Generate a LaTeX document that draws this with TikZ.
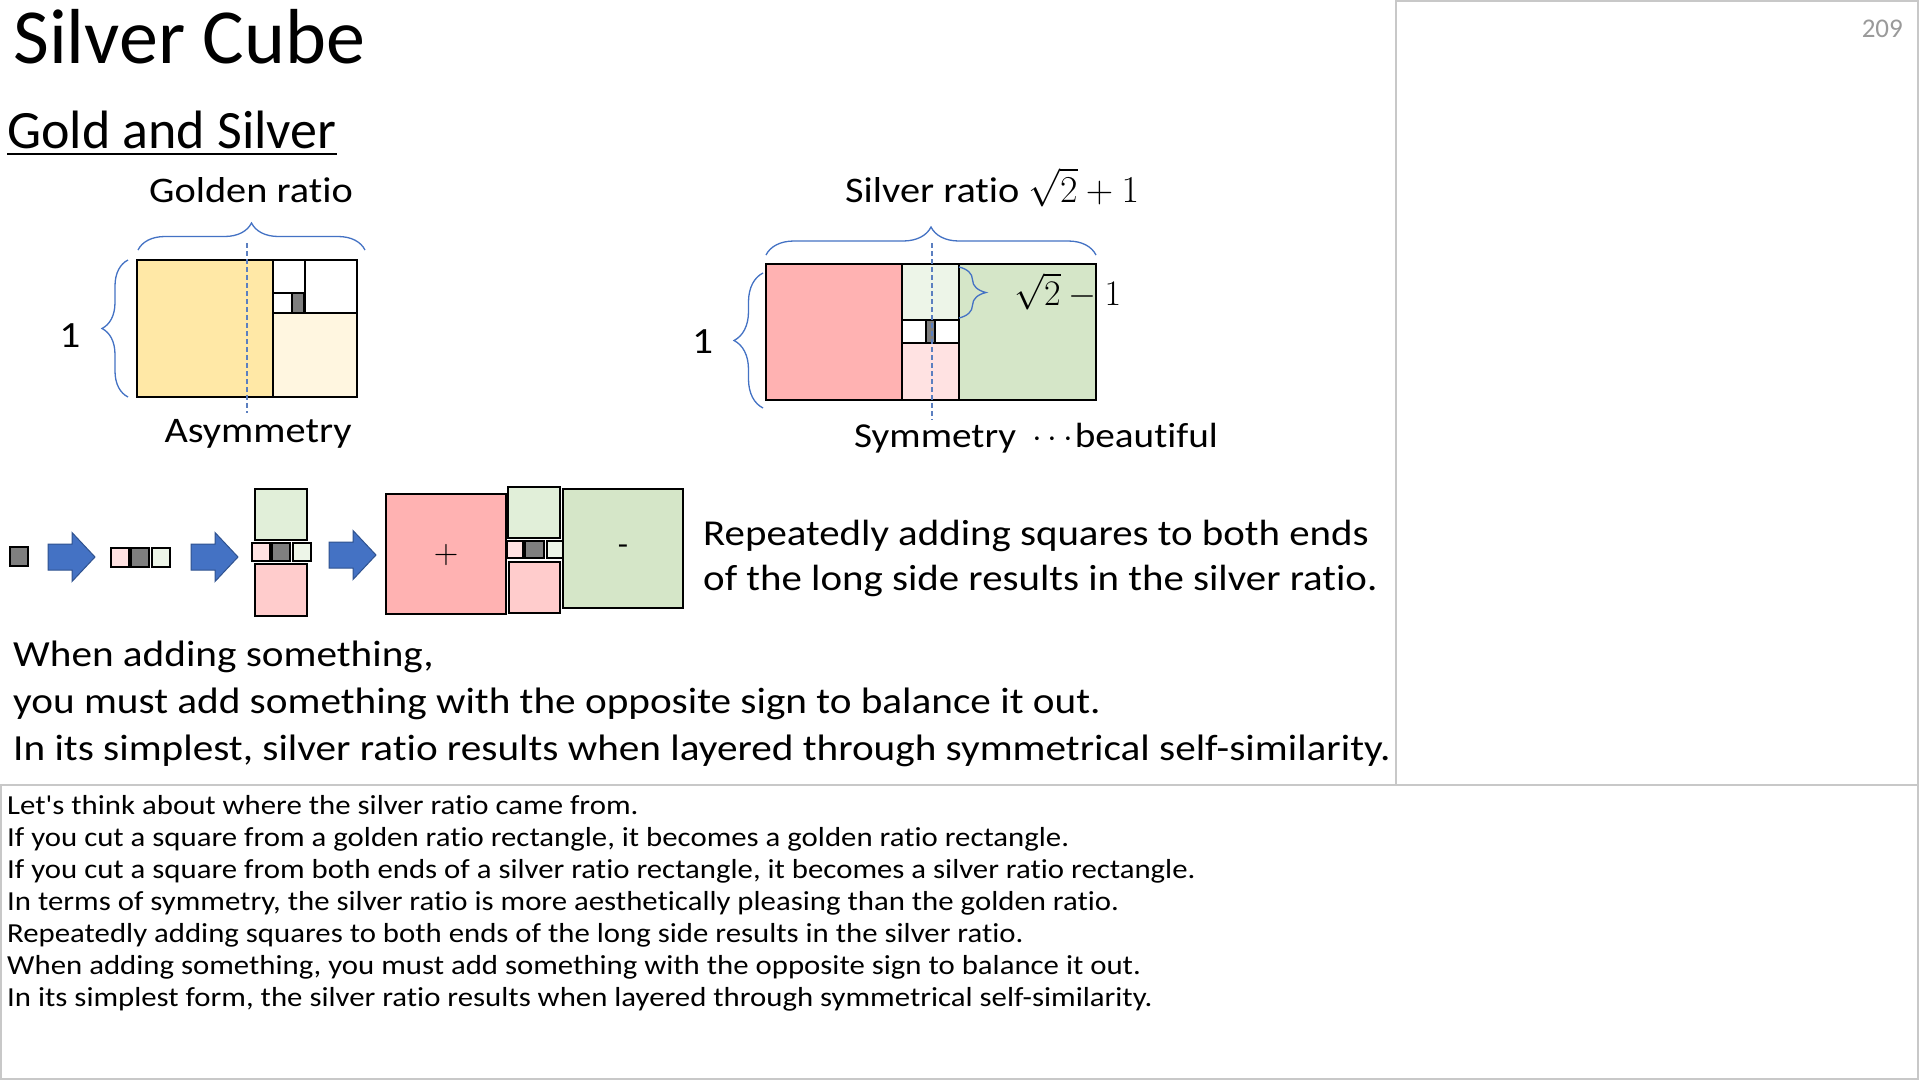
\RequirePackage{fix-cm}
\documentclass[tikz,border=0pt]{standalone}
\usepackage{fontspec}
\setmainfont{Carlito}[FakeStretch=1.12, Ligatures={NoCommon,TeXOff}]
\newfontfamily\headfont{Carlito}[Ligatures={NoCommon,TeXOff}]
\usepackage{amsmath}
\usetikzlibrary{decorations.pathreplacing,calc}

\definecolor{goldA}{HTML}{FFE8A6}
\definecolor{goldB}{HTML}{FFF6E0}
\definecolor{grayA}{HTML}{7F7F7F}
\definecolor{pinkA}{HTML}{FFB2B2}
\definecolor{pinkB}{HTML}{FFCCCC}
\definecolor{pinkC}{HTML}{FFE2E2}
\definecolor{greenA}{HTML}{D5E6C8}
\definecolor{greenB}{HTML}{E1EFD9}
\definecolor{greenC}{HTML}{EDF5E8}
\definecolor{braceblue}{HTML}{4472C4}
\definecolor{dashblue}{HTML}{5B7FC0}
\definecolor{arrowBlue}{HTML}{4472C4}
\definecolor{arrowEdge}{HTML}{2F528F}
\definecolor{frameGray}{HTML}{C8C8C8}
\definecolor{pageGray}{HTML}{9A9A9A}

\newcommand{\fsz}[1]{\fontsize{#1}{#1}\selectfont}

\tikzset{
  sq/.style={draw=black, line width=2.6pt},
  tiny/.style={draw=black, line width=2.2pt},
  txt/.style={inner sep=0pt, anchor=base west, text=black},
  brc/.style={draw=braceblue, line width=1.3pt, decorate, decoration={brace, amplitude=#1}},
  midline/.style={draw=dashblue, line width=1.2pt, dash pattern=on 5pt off 3pt},
  frame/.style={draw=frameGray, line width=1.5pt},
  barrow/.pic={
    \filldraw[fill=arrowBlue, draw=arrowEdge, line width=1pt]
      (0,-13) -- (24,-13) -- (24,-24.5) -- (47,0) -- (24,24.5) -- (24,13) -- (0,13) -- cycle;
  }
}

\begin{document}
\begin{tikzpicture}[x=1pt, y=-1pt]
  \useasboundingbox (0,0) rectangle (1920,1080);
  \fill[white] (0,0) rectangle (1920,1080);

  % page frames
  \draw[frame] (1396,1) rectangle (1918,785);
  \draw[frame] (1,785) rectangle (1918,1079);
  \node[txt, anchor=base east, text=pageGray, font=\headfont\fsz{27}] (page) at (1903,37) {209};

  % headings
  \node[txt, font=\headfont\fsz{78}] (title) at (13,63) {Silver Cube};
  \node[txt, font=\headfont\fsz{54}] (sub) at (7,148) {Gold and Silver};
  \draw[line width=2.3pt] ([yshift=-6pt]sub.base west) -- ([yshift=-6pt]sub.base east);

  % golden rectangle
  \filldraw[sq, fill=goldA] (137,260) rectangle (273,397);
  \filldraw[sq, fill=goldB] (273,313) rectangle (357,397);
  \draw[sq] (305,260) rectangle (357,313);
  \draw[sq] (273,260) rectangle (305,293);
  \draw[tiny] (273,293) rectangle (292,313);
  \filldraw[tiny, fill=grayA] (292,293) rectangle (304,313);
  \draw[midline] (247,243) -- (247,413);
  \draw[brc=27pt] (138,250) -- (365,250);
  \draw[brc=26pt] (128,397) -- (128,260);
  \node[txt, anchor=base, font=\fsz{36}] (gold) at (251,202) {Golden ratio};
  \node[txt, anchor=base, font=\fsz{36}] (asym) at (258,442) {Asymmetry};
  \node[txt, anchor=base, font=\fsz{37}] (gone) at (70,347) {1};

  % silver rectangle
  \filldraw[sq, fill=pinkA] (766,264) rectangle (902,400);
  \filldraw[sq, fill=greenA] (959,264) rectangle (1096,400);
  \filldraw[sq, fill=greenC] (902,264) rectangle (959,320);
  \filldraw[sq, fill=pinkC] (902,343) rectangle (959,400);
  \draw[sq] (902,320) rectangle (959,343);
  \filldraw[tiny, fill=grayA] (926,320) rectangle (935,343);
  \draw[midline] (932,243) -- (932,420);
  \draw[brc=28pt] (766,255) -- (1096,255);
  \draw[brc=29pt] (763,408) -- (763,273);
  \draw[brc=27pt] (959,267) -- (959,318);
  \node[txt, font=\fsz{36}] (silv) at (845,202) {Silver ratio\hspace{9pt}{\fsz{38}$\sqrt{2}+1$}};
  \node[txt, font=\fsz{35}] (sym) at (854,447) {Symmetry\hspace{16pt}$\cdots$\hspace{-4pt}beautiful};
  \node[txt, font=\fsz{37}] (sone) at (692,353) {1};
  \node[txt, font=\fsz{36}] (smin) at (1014,305) {$\sqrt{2}-1$};

  % growing sequence
  \filldraw[tiny, fill=grayA] (10,547) rectangle (28,566);
  \pic at (48,557) {barrow};
  \filldraw[tiny, fill=pinkC] (111,548) rectangle (129,567);
  \filldraw[tiny, fill=grayA] (131,548) rectangle (149,567);
  \filldraw[tiny, fill=greenC] (152,548) rectangle (170,567);
  \pic at (191,557) {barrow};
  \filldraw[sq, fill=greenB] (255,489) rectangle (307,540);
  \filldraw[tiny, fill=pinkC] (252,543) rectangle (270,561);
  \filldraw[tiny, fill=grayA] (272,543) rectangle (290,561);
  \filldraw[tiny, fill=greenC] (293,543) rectangle (311,561);
  \filldraw[sq, fill=pinkB] (255,564) rectangle (307,616);
  \pic at (329,555) {barrow};
  \filldraw[sq, fill=pinkA] (386,494) rectangle (506,614);
  \filldraw[sq, fill=greenB] (508,487) rectangle (560,538);
  \filldraw[tiny, fill=pinkC] (507,541) rectangle (523,558);
  \filldraw[tiny, fill=grayA] (525,541) rectangle (544,558);
  \filldraw[tiny, fill=greenC] (547,541) rectangle (565,558);
  \filldraw[sq, fill=pinkB] (509,562) rectangle (560,613);
  \filldraw[sq, fill=greenA] (563,489) rectangle (683,608);
  \node[font=\fsz{34}] (plus) at (446,555) {$+$};
  \node[font=\fsz{30}] (minus) at (623,550) {-};

  \node[txt, font=\fsz{36.5}] (rep1) at (703,545) {Repeatedly adding squares to both ends};
  \node[txt, font=\fsz{36.5}] (rep2) at (703,590) {of the long side results in the silver ratio.};

  \foreach \ln [count=\i from 0] in {{When adding something,},
      {you must add something with the opposite sign to balance it out.},
      {In its simplest, silver ratio results when layered through symmetrical self-similarity.}}
    \node[txt, font=\fsz{36.8}] (body\i) at (13,666+47*\i) {\ln};

  % speaker notes
  \foreach \ln [count=\i from 0] in {{Let's think about where the silver ratio came from.},
      {If you cut a square from a golden ratio rectangle, it becomes a golden ratio rectangle.},
      {If you cut a square from both ends of a silver ratio rectangle, it becomes a silver ratio rectangle.},
      {In terms of symmetry, the silver ratio is more aesthetically pleasing than the golden ratio.},
      {Repeatedly adding squares to both ends of the long side results in the silver ratio.},
      {When adding something, you must add something with the opposite sign to balance it out.},
      {In its simplest form, the silver ratio results when layered through symmetrical self-similarity.}}
    \node[txt, font=\fsz{27.5}] (note\i) at (7,814+32.1*\i) {\ln};
\end{tikzpicture}
\end{document}
